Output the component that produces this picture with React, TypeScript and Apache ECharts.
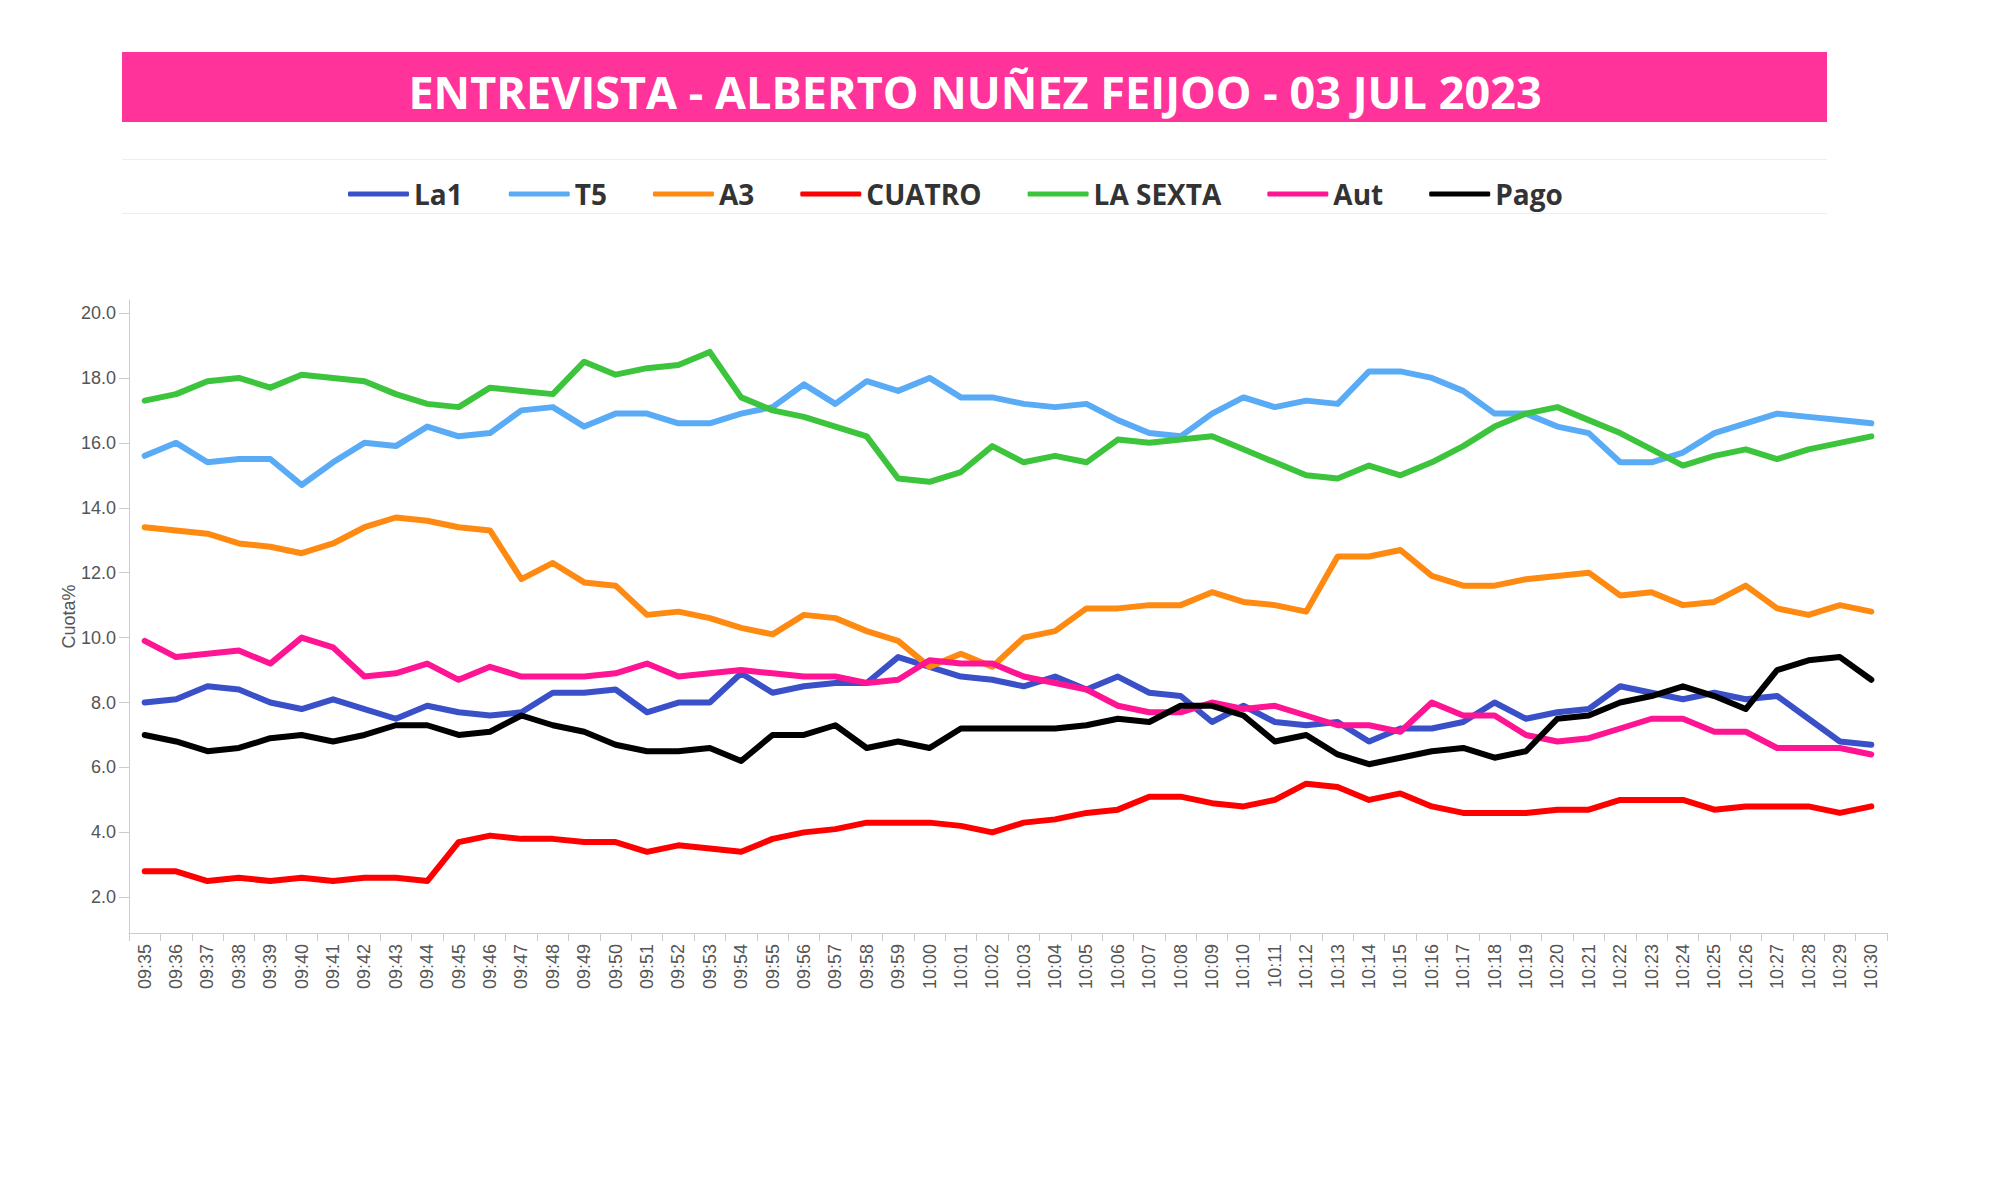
import React, { useEffect, useRef } from "react";
import * as echarts from "echarts";

const categories = [
  "09:35", "09:36", "09:37", "09:38", "09:39", "09:40", "09:41", "09:42", "09:43", "09:44",
  "09:45", "09:46", "09:47", "09:48", "09:49", "09:50", "09:51", "09:52", "09:53", "09:54",
  "09:55", "09:56", "09:57", "09:58", "09:59", "10:00", "10:01", "10:02", "10:03", "10:04",
  "10:05", "10:06", "10:07", "10:08", "10:09", "10:10", "10:11", "10:12", "10:13", "10:14",
  "10:15", "10:16", "10:17", "10:18", "10:19", "10:20", "10:21", "10:22", "10:23", "10:24",
  "10:25", "10:26", "10:27", "10:28", "10:29", "10:30",
];

const la1 = [
  8.0, 8.1, 8.5, 8.4, 8.0, 7.8, 8.1, 7.8, 7.5, 7.9, 7.7, 7.6, 7.7, 8.3, 8.3, 8.4,
  7.7, 8.0, 8.0, 8.9, 8.3, 8.5, 8.6, 8.6, 9.4, 9.1, 8.8, 8.7, 8.5, 8.8, 8.4,
  8.8, 8.3, 8.2, 7.4, 7.9, 7.4, 7.3, 7.4, 6.8, 7.2, 7.2, 7.4, 8.0, 7.5, 7.7,
  7.8, 8.5, 8.3, 8.1, 8.3, 8.1, 8.2, 7.5, 6.8, 6.7,
];
const t5 = [
  15.6, 16.0, 15.4, 15.5, 15.5, 14.7, 15.4, 16.0, 15.9, 16.5, 16.2, 16.3, 17.0, 17.1, 16.5, 16.9,
  16.9, 16.6, 16.6, 16.9, 17.1, 17.8, 17.2, 17.9, 17.6, 18.0, 17.4, 17.4, 17.2, 17.1, 17.2,
  16.7, 16.3, 16.2, 16.9, 17.4, 17.1, 17.3, 17.2, 18.2, 18.2, 18.0, 17.6, 16.9, 16.9, 16.5,
  16.3, 15.4, 15.4, 15.7, 16.3, 16.6, 16.9, 16.8, 16.7, 16.6,
];
const a3 = [
  13.4, 13.3, 13.2, 12.9, 12.8, 12.6, 12.9, 13.4, 13.7, 13.6, 13.4, 13.3, 11.8, 12.3, 11.7, 11.6,
  10.7, 10.8, 10.6, 10.3, 10.1, 10.7, 10.6, 10.2, 9.9, 9.1, 9.5, 9.1, 10.0, 10.2, 10.9,
  10.9, 11.0, 11.0, 11.4, 11.1, 11.0, 10.8, 12.5, 12.5, 12.7, 11.9, 11.6, 11.6, 11.8, 11.9,
  12.0, 11.3, 11.4, 11.0, 11.1, 11.6, 10.9, 10.7, 11.0, 10.8,
];
const cuatro = [
  2.8, 2.8, 2.5, 2.6, 2.5, 2.6, 2.5, 2.6, 2.6, 2.5, 3.7, 3.9, 3.8, 3.8, 3.7, 3.7,
  3.4, 3.6, 3.5, 3.4, 3.8, 4.0, 4.1, 4.3, 4.3, 4.3, 4.2, 4.0, 4.3, 4.4, 4.6,
  4.7, 5.1, 5.1, 4.9, 4.8, 5.0, 5.5, 5.4, 5.0, 5.2, 4.8, 4.6, 4.6, 4.6, 4.7,
  4.7, 5.0, 5.0, 5.0, 4.7, 4.8, 4.8, 4.8, 4.6, 4.8,
];
const laSexta = [
  17.3, 17.5, 17.9, 18.0, 17.7, 18.1, 18.0, 17.9, 17.5, 17.2, 17.1, 17.7, 17.6, 17.5, 18.5, 18.1,
  18.3, 18.4, 18.8, 17.4, 17.0, 16.8, 16.5, 16.2, 14.9, 14.8, 15.1, 15.9, 15.4, 15.6, 15.4,
  16.1, 16.0, 16.1, 16.2, 15.8, 15.4, 15.0, 14.9, 15.3, 15.0, 15.4, 15.9, 16.5, 16.9, 17.1,
  16.7, 16.3, 15.8, 15.3, 15.6, 15.8, 15.5, 15.8, 16.0, 16.2,
];
const aut = [
  9.9, 9.4, 9.5, 9.6, 9.2, 10.0, 9.7, 8.8, 8.9, 9.2, 8.7, 9.1, 8.8, 8.8, 8.8, 8.9,
  9.2, 8.8, 8.9, 9.0, 8.9, 8.8, 8.8, 8.6, 8.7, 9.3, 9.2, 9.2, 8.8, 8.6, 8.4,
  7.9, 7.7, 7.7, 8.0, 7.8, 7.9, 7.6, 7.3, 7.3, 7.1, 8.0, 7.6, 7.6, 7.0, 6.8,
  6.9, 7.2, 7.5, 7.5, 7.1, 7.1, 6.6, 6.6, 6.6, 6.4,
];
const pago = [
  7.0, 6.8, 6.5, 6.6, 6.9, 7.0, 6.8, 7.0, 7.3, 7.3, 7.0, 7.1, 7.6, 7.3, 7.1, 6.7,
  6.5, 6.5, 6.6, 6.2, 7.0, 7.0, 7.3, 6.6, 6.8, 6.6, 7.2, 7.2, 7.2, 7.2, 7.3,
  7.5, 7.4, 7.9, 7.9, 7.6, 6.8, 7.0, 6.4, 6.1, 6.3, 6.5, 6.6, 6.3, 6.5, 7.5,
  7.6, 8.0, 8.2, 8.5, 8.2, 7.8, 9.0, 9.3, 9.4, 8.7,
];

const yTicks = [2, 4, 6, 8, 10, 12, 14, 16, 18, 20];

const seriesDefs = [
  { name: "La1", data: la1, color: "#3A50C8" },
  { name: "T5", data: t5, color: "#5AABF6" },
  { name: "A3", data: a3, color: "#FF8A12" },
  { name: "CUATRO", data: cuatro, color: "#FF0000" },
  { name: "LA SEXTA", data: laSexta, color: "#3CC43C" },
  { name: "Aut", data: aut, color: "#FF1493" },
  { name: "Pago", data: pago, color: "#000000" },
];

const TITLE = "ENTREVISTA - ALBERTO NUÑEZ FEIJOO - 03 JUL 2023";

export default function App() {
  const ref = useRef<HTMLDivElement>(null);

  useEffect(() => {
    if (!ref.current) return;
    const chart = echarts.init(ref.current, undefined, { renderer: "svg" });
    const axisFont = "'Liberation Sans', Arial, sans-serif";
    chart.setOption({
      animation: false,
      backgroundColor: "#ffffff",
      graphic: [
        {
          type: "rect",
          shape: { x: 122, y: 52, width: 1705, height: 70 },
          style: { fill: "#FF3399" },
          silent: true,
        },
        {
          type: "text",
          x: 975,
          y: 91,
          style: {
            text: TITLE,
            fill: "#ffffff",
            font: "bold 45px 'Open Sans', sans-serif",
            align: "center",
            verticalAlign: "middle",
          },
          silent: true,
        },
        {
          type: "line",
          shape: { x1: 122, y1: 159.5, x2: 1827, y2: 159.5 },
          style: { stroke: "#eeeeee", lineWidth: 1 },
          silent: true,
        },
        {
          type: "line",
          shape: { x1: 122, y1: 213.5, x2: 1827, y2: 213.5 },
          style: { stroke: "#eeeeee", lineWidth: 1 },
          silent: true,
        },
      ],
      legend: {
        left: 343,
        top: 175,
        icon: "roundRect",
        itemWidth: 61,
        itemHeight: 5,
        itemGap: 46,
        textStyle: {
          fontFamily: "'Open Sans', sans-serif",
          fontWeight: "bold",
          fontSize: 28,
          color: "#333333",
          padding: [0, 0, 0, 0],
        },
        data: seriesDefs.map((s) => s.name),
      },
      grid: { left: 129, right: 113, top: 300, bottom: 252, containLabel: false },
      xAxis: {
        type: "category",
        data: categories,
        boundaryGap: true,
        axisLine: { show: true, lineStyle: { color: "#cccccc", width: 1 } },
        axisTick: { show: true, length: 8, lineStyle: { color: "#cccccc" } },
        axisLabel: {
          interval: 0,
          rotate: 90,
          fontSize: 18,
          color: "#555555",
          fontFamily: axisFont,
          margin: 11,
        },
        splitLine: { show: false },
      },
      yAxis: {
        type: "value",
        min: 0.9,
        max: 20.4,
        name: "Cuota%",
        nameLocation: "middle",
        nameGap: 51,
        nameMoveOverlap: false,
        nameTextStyle: { fontSize: 18, color: "#555555", fontFamily: axisFont },
        axisLine: { show: true, lineStyle: { color: "#cccccc", width: 1 } },
        axisTick: { show: true, length: 10, lineStyle: { color: "#cccccc" }, customValues: yTicks },
        axisLabel: {
          customValues: yTicks,
          formatter: (v: number) => v.toFixed(1),
          fontSize: 18,
          color: "#555555",
          fontFamily: axisFont,
          margin: 13,
        },
        splitLine: { show: false },
      },
      series: seriesDefs.map((s) => ({
        name: s.name,
        type: "line",
        data: s.data,
        symbol: "none",
        smooth: false,
        color: s.color,
        lineStyle: { width: 6, color: s.color, cap: "round", join: "round" },
        emphasis: { disabled: true },
      })),
    });
    return () => chart.dispose();
  }, []);

  return (
    <div
      ref={ref}
      style={{ position: "fixed", left: 0, top: 0, width: 2000, height: 1185, background: "#fff" }}
    />
  );
}
